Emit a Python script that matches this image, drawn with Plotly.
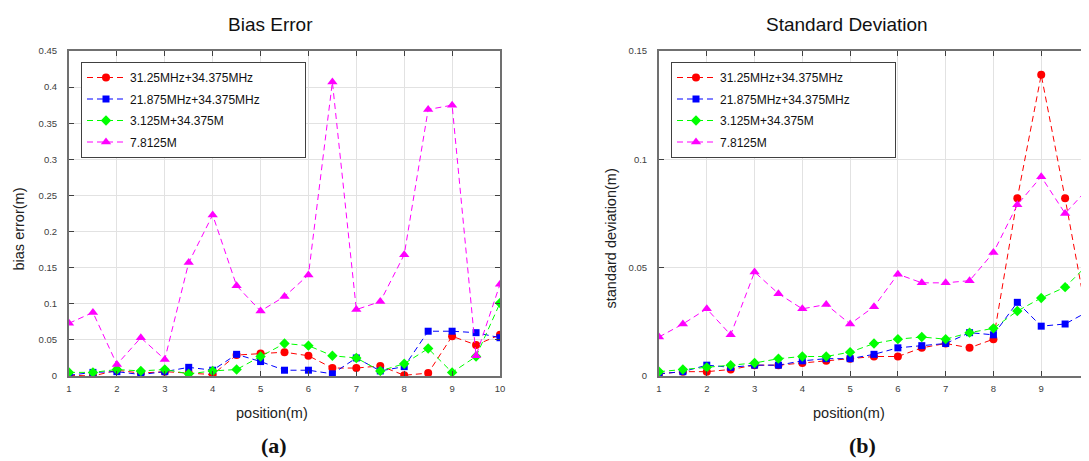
import plotly.graph_objects as go

positions = [1, 1.5, 2, 2.5, 3, 3.5, 4, 4.5, 5, 5.5, 6, 6.5, 7, 7.5, 8, 8.5, 9, 9.5, 10]
series_names = ["31.25MHz+34.375MHz", "21.875MHz+34.375MHz", "3.125M+34.375M", "7.8125M"]

bias_red = [0.001, 0.000, 0.008, 0.004, 0.006, 0.004, 0.002, 0.029, 0.031, 0.033, 0.028, 0.011,
            0.011, 0.014, 0.001, 0.004, 0.055, 0.043, 0.057]
bias_blue = [0.001, 0.005, 0.006, 0.002, 0.006, 0.012, 0.008, 0.030, 0.020, 0.008, 0.008, 0.003,
             0.025, 0.007, 0.013, 0.062, 0.062, 0.060, 0.053]
bias_green = [0.005, 0.005, 0.009, 0.007, 0.009, 0.003, 0.007, 0.009, 0.027, 0.045, 0.042, 0.028,
              0.025, 0.007, 0.017, 0.038, 0.005, 0.027, 0.101]
bias_magenta = [0.073, 0.088, 0.016, 0.053, 0.023, 0.157, 0.223, 0.125, 0.090, 0.110, 0.140, 0.407,
                0.092, 0.103, 0.168, 0.369, 0.375, 0.028, 0.127]

std_red = [0.001, 0.002, 0.002, 0.003, 0.005, 0.005, 0.006, 0.007, 0.008, 0.009, 0.009, 0.013,
           0.015, 0.013, 0.017, 0.082, 0.139, 0.082, 0.022]
std_blue = [0.001, 0.002, 0.005, 0.004, 0.005, 0.005, 0.007, 0.008, 0.008, 0.010, 0.013, 0.014,
            0.015, 0.020, 0.019, 0.034, 0.023, 0.024, 0.030]
std_green = [0.002, 0.003, 0.004, 0.005, 0.006, 0.008, 0.009, 0.009, 0.011, 0.015, 0.017, 0.018,
             0.017, 0.020, 0.022, 0.030, 0.036, 0.041, 0.052]
std_magenta = [0.018, 0.024, 0.031, 0.019, 0.048, 0.038, 0.031, 0.033, 0.024, 0.032, 0.047, 0.043,
               0.043, 0.044, 0.057, 0.079, 0.092, 0.075, 0.087]

x_ticks = [1, 2, 3, 4, 5, 6, 7, 8, 9, 10]

colors = ["#ff0000", "#0000ff", "#00ff00", "#ff00ff"]
symbols = ["circle", "square", "diamond", "triangle-up"]
msizes = [8, 7, 8, 9]

# The page body has an 8px default margin: lay the figure out so that it lands
# where the reference has it inside the 1089x461 window.
OFF = 8
VW, VH = 1089, 461
W, H = VW - OFF, VH - OFF
def px(x):
    return (x - OFF) / W
def py(y):
    return 1 - (y - OFF) / H

# pad the longest legend label so the legend box is as wide as the reference's
pad = "\u00a0" * 12
legend_names = [n + (pad if n == max(series_names, key=len) else "") for n in series_names]

fig = go.Figure()
bias = [bias_red, bias_blue, bias_green, bias_magenta]
std = [std_red, std_blue, std_green, std_magenta]
for i in range(4):
    fig.add_trace(go.Scatter(
        x=positions, y=bias[i], name=legend_names[i], mode="lines+markers",
        line=dict(color=colors[i], width=1, dash="6px,4px"),
        marker=dict(symbol=symbols[i], size=msizes[i], color=colors[i]),
        xaxis="x", yaxis="y", legend="legend", legendgroup="a%d" % i))
for i in range(4):
    fig.add_trace(go.Scatter(
        x=positions, y=std[i], name=legend_names[i], mode="lines+markers",
        line=dict(color=colors[i], width=1, dash="6px,4px"),
        marker=dict(symbol=symbols[i], size=msizes[i], color=colors[i]),
        xaxis="x2", yaxis="y2", legend="legend2", legendgroup="b%d" % i))

tickfont = dict(family="Liberation Sans, Arial", size=9.5, color="#404040")
axis_common = dict(showgrid=True, gridcolor="#e2e2e2", gridwidth=1, automargin=False,
                   showline=True, linecolor="#707070", linewidth=2, mirror="ticks",
                   ticks="inside", ticklen=5, tickcolor="#404040", tickwidth=1,
                   zeroline=False, tickfont=tickfont)

ydom = [py(376), py(51)]
legend_common = dict(y=py(62), xanchor="left", yanchor="top",
                     bordercolor="#404040", borderwidth=1, bgcolor="white",
                     font=dict(family="Liberation Sans, Arial", size=12, color="#111"),
                     traceorder="grouped", tracegroupgap=2.5, itemwidth=38)
fig.update_layout(
    width=W, height=H, margin=dict(l=0, r=0, t=0, b=0, autoexpand=False),
    paper_bgcolor="white", plot_bgcolor="white",
    xaxis=dict(domain=[px(69), px(500)], range=[1, 10], tickvals=x_ticks, anchor="y",
               ticklabelstandoff=3, **axis_common),
    yaxis=dict(domain=ydom, range=[0, 0.45], dtick=0.05, tick0=0, anchor="x",
               ticklabelstandoff=8, **axis_common),
    xaxis2=dict(domain=[px(659), 1.0], range=[1, 10], tickvals=x_ticks, anchor="y2",
                ticklabelstandoff=3, ticklabeloverflow="allow", **axis_common),
    yaxis2=dict(domain=ydom, range=[0, 0.15], dtick=0.05, tick0=0, anchor="x2",
                ticklabelstandoff=8, **axis_common),
    legend=dict(x=px(81), **legend_common),
    legend2=dict(x=px(671), **legend_common),
    showlegend=True,
)

sans = "Liberation Sans, Arial"
ann = [
    dict(text="Bias Error", x=px(270), y=py(25), font=dict(family=sans, size=19, color="#111")),
    dict(text="Standard Deviation", x=px(847), y=py(25), font=dict(family=sans, size=19, color="#111")),
    dict(text="bias error(m)", x=px(19), y=py(229.5), textangle=-90, font=dict(family=sans, size=14.5, color="#222")),
    dict(text="standard deviation(m)", x=px(610), y=py(238.5), textangle=-90, font=dict(family=sans, size=14.5, color="#222")),
    dict(text="position(m)", x=px(271.5), y=py(413), font=dict(family=sans, size=14.5, color="#222")),
    dict(text="position(m)", x=px(849), y=py(413), font=dict(family=sans, size=14.5, color="#222")),
    dict(text="<b>(a)</b>", x=px(274), y=py(445), font=dict(family="Liberation Serif, DejaVu Serif", size=22, color="#111")),
    dict(text="<b>(b)</b>", x=px(862), y=py(445), font=dict(family="Liberation Serif, DejaVu Serif", size=22, color="#111")),
]
for a in ann:
    a.update(xref="paper", yref="paper", xanchor="center", yanchor="middle", showarrow=False)
    fig.add_annotation(**a)

fig.write_html("out.html")
